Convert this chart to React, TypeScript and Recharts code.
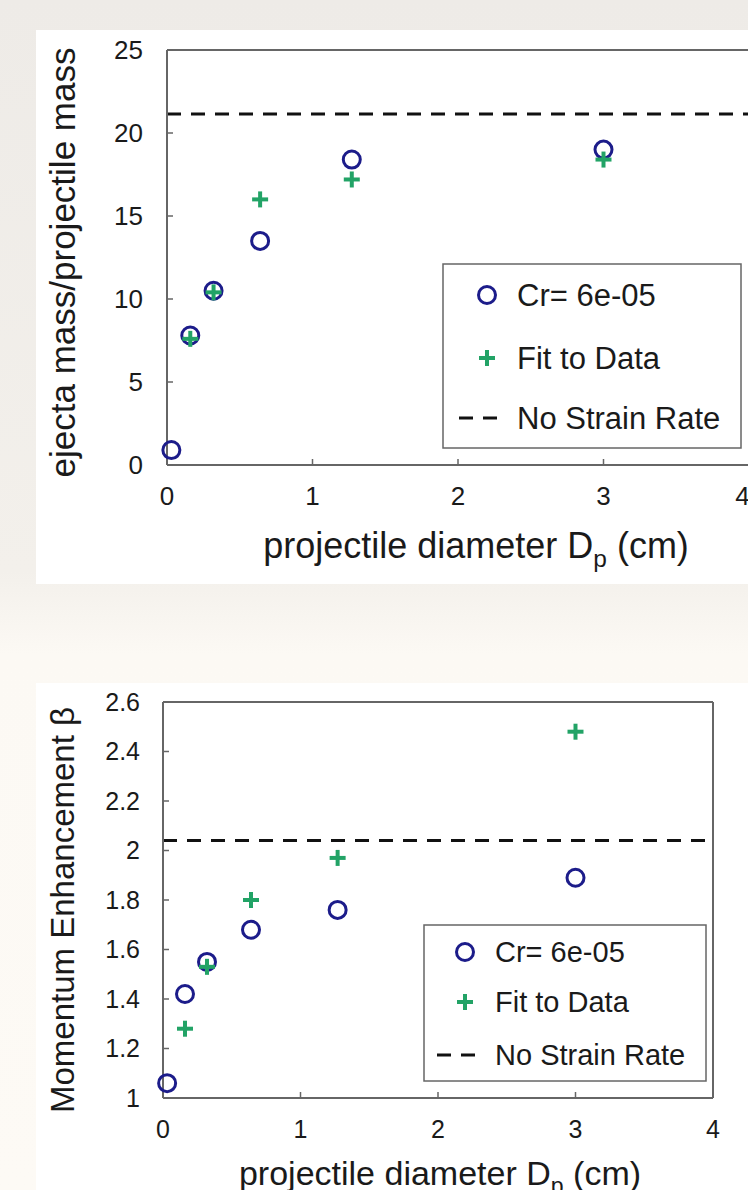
import React from 'react';
import { ScatterChart, Scatter, XAxis, YAxis, ReferenceLine, Legend, Label } from 'recharts';

// projectile diameters (cm)
const diameters = [0.03, 0.16, 0.32, 0.64, 1.27, 3];
const fitDiameters = [0.16, 0.32, 0.64, 1.27, 3];

// ejecta mass / projectile mass
const ejectaModel = [0.9, 7.8, 10.5, 13.5, 18.4, 19.0];
const ejectaFit = [7.6, 10.4, 16.0, 17.2, 18.4];
const ejectaNoStrain = 21.15;

// momentum enhancement beta
const betaModel = [1.06, 1.42, 1.55, 1.68, 1.76, 1.89];
const betaFit = [1.28, 1.53, 1.8, 1.97, 2.48];
const betaNoStrain = 2.04;

const xTicks = [0, 1, 2, 3, 4];
const ejectaTicks = [0, 5, 10, 15, 20, 25];
const betaTicks = [1, 1.2, 1.4, 1.6, 1.8, 2, 2.2, 2.4, 2.6];
const legendNames = ['Cr= 6e-05', 'Fit to Data', 'No Strain Rate'];

const font = '"Liberation Sans", Arial, Helvetica, sans-serif';
const navy = '#1c1c8a';
const green = '#22a366';
const frame = '#666';

const toPoints = (xs: number[], ys: number[]) => xs.map((x, i) => ({ x, y: ys[i] }));

const OpenCircle = (props: any) => (
  <circle cx={props.cx} cy={props.cy} r={8.5} fill="none" stroke={navy} strokeWidth={3} />
);

const GreenPlus = (props: any) => {
  const { cx, cy } = props;
  return (
    <g stroke={green} strokeWidth={4}>
      <line x1={cx - 8} y1={cy} x2={cx + 8} y2={cy} />
      <line x1={cx} y1={cy - 8} x2={cx} y2={cy + 8} />
    </g>
  );
};

interface LegendBoxProps {
  width: number;
  height: number;
  rows: number[];
  iconX: number;
  textX: number;
  fontSize: number;
}

const LegendBox = ({ width, height, rows, iconX, textX, fontSize }: LegendBoxProps) => (
  <svg width={width} height={height} style={{ display: 'block' }}>
    <rect x={1} y={1} width={width - 2} height={height - 2} fill="#fff" stroke={frame} strokeWidth={1.5} />
    <OpenCircle cx={iconX} cy={rows[0]} />
    <GreenPlus cx={iconX} cy={rows[1]} />
    <line x1={iconX - 28} y1={rows[2]} x2={iconX + 15} y2={rows[2]} stroke="#111" strokeWidth={3} strokeDasharray="14 10" />
    {legendNames.map((name, i) => (
      <text key={name} x={textX} y={rows[i]} dominantBaseline="central" fontSize={fontSize} fontFamily={font} fill="#1a1a1a">
        {name}
      </text>
    ))}
  </svg>
);

const xTitle = (dx: number, dy: number, size: number) => (props: any) => {
  const { x, y, width } = props.viewBox;
  return (
    <text x={x + width / 2 + dx} y={y + dy} textAnchor="middle" fontSize={size} fontFamily={font} fill="#1a1a1a">
      projectile diameter D
      <tspan dy={9} fontSize={size * 0.68}>p</tspan>
      <tspan dy={-9}> (cm)</tspan>
    </text>
  );
};

const yTitle = (text: string, cx: number, dy: number, size: number) => (props: any) => {
  const { y, height } = props.viewBox;
  const cy = y + height / 2 + dy;
  return (
    <text
      x={cx}
      y={cy}
      transform={`rotate(-90, ${cx}, ${cy})`}
      textAnchor="middle"
      dominantBaseline="central"
      fontSize={size}
      fontFamily={font}
      fill="#1a1a1a"
    >
      {text}
    </text>
  );
};

const topTick = { fontSize: 26, fill: '#1a1a1a', fontFamily: font };
const bottomTick = { fontSize: 25, fill: '#1a1a1a', fontFamily: font };

const App = () => {
  return (
    <div
      style={{
        position: 'absolute',
        left: 0,
        top: 0,
        width: 748,
        height: 1190,
        overflow: 'hidden',
        background: 'linear-gradient(180deg, #eeebe7 0%, #f3f0eb 48%, #fcf9f4 55%, #fdfaf5 100%)',
      }}
    >
      <div style={{ position: 'absolute', left: 36, top: 30, width: 712, height: 554, background: '#fff' }}>
        <ScatterChart width={713} height={554} margin={{ top: 20, right: 0, bottom: 0, left: 0 }}>
          <XAxis
            type="number"
            dataKey="x"
            domain={[0, 4]}
            ticks={xTicks}
            height={119}
            tick={topTick}
            tickSize={-6}
            tickMargin={28}
            axisLine={{ stroke: frame, strokeWidth: 2 }}
            tickLine={{ stroke: frame, strokeWidth: 1.5 }}
          >
            <Label content={xTitle(18, 93, 36)} />
          </XAxis>
          <YAxis
            type="number"
            dataKey="y"
            domain={[0, 25]}
            ticks={ejectaTicks}
            width={131}
            tick={topTick}
            tickSize={-6}
            tickMargin={30}
            axisLine={{ stroke: frame, strokeWidth: 2 }}
            tickLine={{ stroke: frame, strokeWidth: 1.5 }}
          >
            <Label content={yTitle('ejecta mass/projectile mass', 26, 5, 35)} />
          </YAxis>
          <ReferenceLine y={25} stroke={frame} strokeWidth={2} />
          <ReferenceLine y={ejectaNoStrain} stroke="#111" strokeWidth={3} strokeDasharray="14 10" />
          <Scatter name={legendNames[0]} data={toPoints(diameters, ejectaModel)} shape={OpenCircle} isAnimationActive={false} />
          <Scatter name={legendNames[1]} data={toPoints(fitDiameters, ejectaFit)} shape={GreenPlus} isAnimationActive={false} />
          <Legend
            layout="vertical"
            align="center"
            verticalAlign="middle"
            wrapperStyle={{ left: 406, top: 233, width: 300, height: 186 }}
            content={() => <LegendBox width={300} height={186} rows={[32, 95, 155]} iconX={45} textX={75} fontSize={31} />}
          />
        </ScatterChart>
      </div>

      <div style={{ position: 'absolute', left: 36, top: 683, width: 712, height: 507, background: '#fff' }}>
        <ScatterChart width={712} height={507} margin={{ top: 19, right: 35, bottom: 0, left: 0 }}>
          <XAxis
            type="number"
            dataKey="x"
            domain={[0, 4]}
            ticks={xTicks}
            height={92}
            tick={bottomTick}
            tickSize={-6}
            tickMargin={28}
            axisLine={{ stroke: frame, strokeWidth: 2 }}
            tickLine={{ stroke: frame, strokeWidth: 1.5 }}
          >
            <Label content={xTitle(2, 87, 34)} />
          </XAxis>
          <YAxis
            type="number"
            dataKey="y"
            domain={[1, 2.6]}
            ticks={betaTicks}
            width={127}
            tick={bottomTick}
            tickSize={-6}
            tickMargin={29}
            tickFormatter={(v: number) => String(Math.round(v * 10) / 10)}
            axisLine={{ stroke: frame, strokeWidth: 2 }}
            tickLine={{ stroke: frame, strokeWidth: 1.5 }}
          >
            <Label content={yTitle('Momentum Enhancement β', 26, 10, 33)} />
          </YAxis>
          <ReferenceLine y={2.6} stroke={frame} strokeWidth={2} />
          <ReferenceLine x={4} stroke={frame} strokeWidth={2} />
          <ReferenceLine y={betaNoStrain} stroke="#111" strokeWidth={3} strokeDasharray="14 10" />
          <Scatter name={legendNames[0]} data={toPoints(diameters, betaModel)} shape={OpenCircle} isAnimationActive={false} />
          <Scatter name={legendNames[1]} data={toPoints(fitDiameters, betaFit)} shape={GreenPlus} isAnimationActive={false} />
          <Legend
            layout="vertical"
            align="center"
            verticalAlign="middle"
            wrapperStyle={{ left: 387, top: 241, width: 284, height: 158 }}
            content={() => <LegendBox width={284} height={158} rows={[28, 78, 131]} iconX={42} textX={72} fontSize={29} />}
          />
        </ScatterChart>
      </div>
    </div>
  );
};

export default App;
